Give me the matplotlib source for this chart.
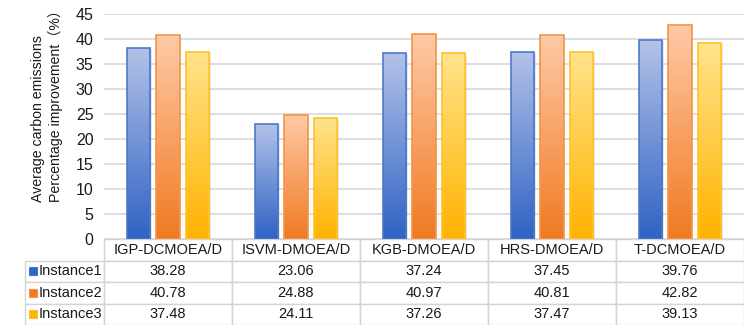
import numpy as np
import matplotlib
matplotlib.use("Agg")
import matplotlib.pyplot as plt
from matplotlib.patches import Rectangle
from matplotlib.colors import LinearSegmentedColormap

plt.rcParams['font.family'] = ['Liberation Sans', 'Noto Sans CJK SC', 'DejaVu Sans']

methods = ['IGP-DCMOEA/D', 'ISVM-DMOEA/D', 'KGB-DMOEA/D', 'HRS-DMOEA/D', 'T-DCMOEA/D']
series = ['Instance1', 'Instance2', 'Instance3']
instance1 = [38.28, 23.06, 37.24, 37.45, 39.76]
instance2 = [40.78, 24.88, 40.97, 40.81, 42.82]
instance3 = [37.48, 24.11, 37.26, 37.47, 39.13]
yticks = [0, 5, 10, 15, 20, 25, 30, 35, 40, 45]

# (top colour, bottom colour, edge colour) per series
styles = [
    ('#b4c2e8', '#2f63c4', '#4a78d0'),
    ('#ffcaa6', '#f07a22', '#f39548'),
    ('#ffe38c', '#ffb300', '#ffc226'),
]

W, H = 744, 325
fig = plt.figure(figsize=(W / 100, H / 100), dpi=100)
ax = fig.add_axes([104 / W, 1 - 239 / H, 640 / W, 225 / H])

x = np.arange(len(methods))
width = 0.183
offsets = [-0.232, 0.0, 0.232]
grad = np.linspace(0, 1, 256).reshape(-1, 1)

for vals, off, (top, bot, edge) in zip([instance1, instance2, instance3], offsets, styles):
    cmap = LinearSegmentedColormap.from_list('g', [bot, top])
    bars = ax.bar(x + off, vals, width, facecolor='none', edgecolor=edge,
                  linewidth=1.2, zorder=3)
    for b in bars:
        x0, w, h = b.get_x(), b.get_width(), b.get_height()
        # soft drop shadow
        ax.add_patch(Rectangle((x0 + 0.012, 0), w, h - 0.2, facecolor='#000000',
                               alpha=0.08, linewidth=0, zorder=1.5))
        im = ax.imshow(grad, cmap=cmap, origin='lower', aspect='auto',
                       extent=(x0, x0 + w, 0, h), zorder=2)
        im.set_clip_path(b)

ax.set_xlim(-0.5, len(methods) - 0.5)
ax.set_ylim(0, 45)
ax.set_yticks(yticks)
ax.set_xticks([])
ax.tick_params(axis='y', length=0, labelsize=11.5, labelcolor='#1a1a1a', pad=7.5)
ax.yaxis.grid(True, color='#dedede', linewidth=1.4, zorder=0)
ax.set_axisbelow(True)
for s in ax.spines.values():
    s.set_visible(False)

# data table under the plot; bbox covers the value grid only
cell_text = [[f'{v:.2f}' for v in row] for row in (instance1, instance2, instance3)]
table = ax.table(cellText=cell_text, rowLabels=series,
                 colLabels=methods, cellLoc='center', rowLoc='left',
                 bbox=[0, -86 / 225, 1, 86 / 225])
table._autoColumns = []
table.set_clip_on(False)
table.auto_set_font_size(False)
table.set_fontsize(10.5)
for (r, c), cell in table.get_celld().items():
    cell.set_width((79 if c == -1 else 128) / 640)
    cell.set_edgecolor('#d4d4d4')
    cell.set_linewidth(1.0)
    cell.set_clip_on(False)
    cell.get_text().set_color('#1a1a1a')
    if c == -1:
        cell.PAD = 14 / 79

# legend keys inside the row label cells
row_h = 86 / 225 / 4
for i, (top, bot, edge) in enumerate(styles):
    yc = -86 / 225 + row_h * (2.5 - i)
    ax.add_patch(Rectangle(((29 - 104) / 640, yc - 4 / 225), 8 / 640, 8 / 225,
                           transform=ax.transAxes, facecolor=bot, edgecolor=edge,
                           linewidth=0.8, clip_on=False, zorder=5))

fig.text(47 / W, 1 - 202 / H,
         'Average carbon emissions\nPercentage improvement（%）',
         rotation=90, ha='center', va='bottom', multialignment='left',
         fontsize=10.2, color='#1a1a1a', linespacing=1.3)

fig.savefig('out.png', dpi=100)
